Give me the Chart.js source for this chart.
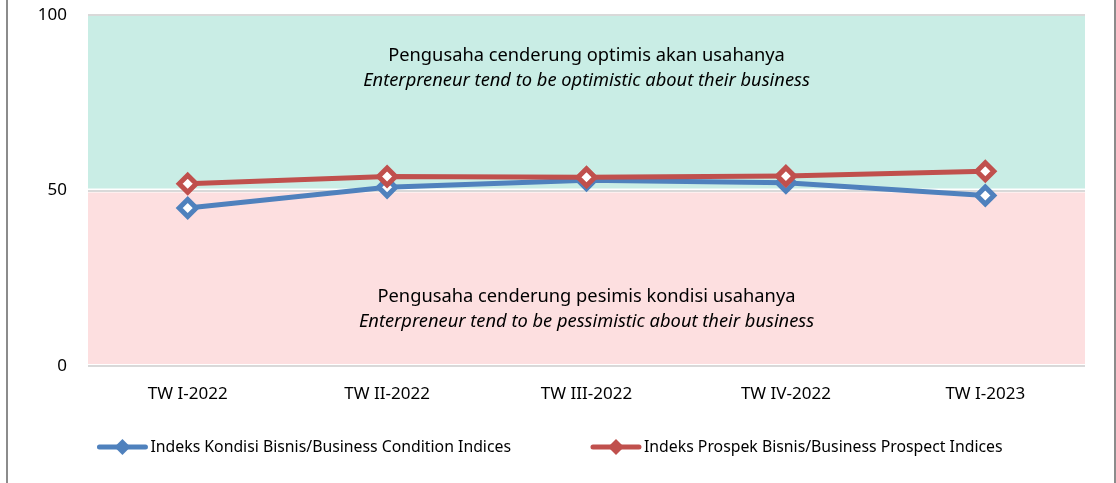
<!DOCTYPE html>
<html lang="id">
<head>
<meta charset="UTF-8">
<title>Indeks Kondisi dan Prospek Bisnis</title>
<script src="https://cdn.jsdelivr.net/npm/chart.js"></script>
<style>
  html, body { margin: 0; padding: 0; background: #fff; }
  #wrap { width: 1116px; height: 483px; }
</style>
</head>
<body>
<div id="wrap"><canvas id="bisnisChart"></canvas></div>
<script>
const quarters = ['TW I-2022', 'TW II-2022', 'TW III-2022', 'TW IV-2022', 'TW I-2023'];
const kondisiValues = [45.0, 50.9, 52.9, 52.2, 48.6];
const prospekValues = [51.9, 54.0, 53.8, 54.1, 55.5];
const yTicks = [0, 50, 100];

const FONT = '"Noto Sans", sans-serif';
const BLUE = '#4f81bd';
const RED = '#c0504d';

// background bands + annotation texts + frame + legend
const bandsPlugin = {
    id: 'bands',
    beforeDatasetsDraw(chart) {
        const { ctx, chartArea, scales: { y } } = chart;
        const top = y.getPixelForValue(100), mid = y.getPixelForValue(50), bot = y.getPixelForValue(0);
        ctx.save();
        ctx.fillStyle = '#c9ede5';
        ctx.fillRect(chartArea.left, top + 1, chartArea.right - chartArea.left, mid - top - 3);
        ctx.fillStyle = '#fddfe0';
        ctx.fillRect(chartArea.left, mid + 2, chartArea.right - chartArea.left, bot - mid - 4);

        const cx = (chartArea.left + chartArea.right) / 2;
        ctx.fillStyle = '#000';
        ctx.textAlign = 'center';
        ctx.textBaseline = 'middle';
        ctx.font = '18.3px ' + FONT;
        ctx.fillText('Pengusaha cenderung optimis akan usahanya', cx, y.getPixelForValue(88.4));
        ctx.fillText('Pengusaha cenderung pesimis kondisi usahanya', cx, y.getPixelForValue(19.6));
        ctx.font = 'italic 18.3px ' + FONT;
        ctx.fillText('Enterpreneur tend to be optimistic about their business', cx, y.getPixelForValue(81.3));
        ctx.fillText('Enterpreneur tend to be pessimistic about their business', cx, y.getPixelForValue(12.5));
        ctx.restore();
    },
    afterDraw(chart) {
        const { ctx, width, height } = chart;
        ctx.save();
        ctx.strokeStyle = '#8c8c8c';
        ctx.lineWidth = 2;
        ctx.beginPath();
        ctx.moveTo(7, 0); ctx.lineTo(7, height);
        ctx.moveTo(width - 1, 0); ctx.lineTo(width - 1, height);
        ctx.stroke();

        // legend
        const ly = 447;
        ctx.font = '15.8px ' + FONT;
        ctx.textBaseline = 'middle';
        ctx.textAlign = 'left';
        const items = chart.data.datasets.map(ds => ({ label: ds.label, color: ds.borderColor, w: 53 + ctx.measureText(ds.label).width }));
        const gap = 80;
        const total = items.reduce((s, it) => s + it.w, 0) + gap * (items.length - 1);
        let x = (width - total) / 2 - 8;
        items.forEach(it => {
            ctx.strokeStyle = it.color;
            ctx.lineWidth = 5;
            ctx.lineCap = 'round';
            ctx.beginPath();
            ctx.moveTo(x + 2, ly); ctx.lineTo(x + 48, ly);
            ctx.stroke();
            ctx.fillStyle = it.color;
            ctx.beginPath();
            const dx = x + 25;
            ctx.moveTo(dx, ly - 8); ctx.lineTo(dx + 8, ly); ctx.lineTo(dx, ly + 8); ctx.lineTo(dx - 8, ly);
            ctx.closePath();
            ctx.fill();
            ctx.fillStyle = '#000';
            ctx.fillText(it.label, x + 53, ly);
            x += it.w + gap;
        });
        ctx.restore();
    }
};

new Chart(document.getElementById('bisnisChart'), {
    type: 'line',
    data: {
        labels: quarters,
        datasets: [{
            label: 'Indeks Kondisi Bisnis/Business Condition Indices',
            data: kondisiValues,
            order: 2,
            borderColor: BLUE,
            backgroundColor: '#fff',
            borderWidth: 5,
            pointStyle: 'rectRot',
            pointRadius: 8.5,
            pointBorderWidth: 5,
            pointBackgroundColor: '#fff',
            pointBorderColor: BLUE,
            tension: 0
        }, {
            label: 'Indeks Prospek Bisnis/Business Prospect Indices',
            data: prospekValues,
            order: 1,
            borderColor: RED,
            backgroundColor: '#fff',
            borderWidth: 5,
            pointStyle: 'rectRot',
            pointRadius: 8.5,
            pointBorderWidth: 5,
            pointBackgroundColor: '#fff',
            pointBorderColor: RED,
            tension: 0
        }]
    },
    options: {
        responsive: true,
        maintainAspectRatio: false,
        animation: false,
        layout: { padding: { top: 15, right: 31, bottom: 0, left: 0 } },
        plugins: {
            legend: { display: false },
            tooltip: { enabled: false }
        },
        scales: {
            x: {
                offset: true,
                grid: { display: false },
                border: { display: false },
                ticks: { color: '#000', font: { family: FONT, size: 17 }, padding: 10 },
                afterFit(scale) { scale.height = 117; }
            },
            y: {
                min: 0,
                max: 100,
                afterBuildTicks(scale) { scale.ticks = yTicks.map(v => ({ value: v })); },
                grid: { color: '#d9d9d9', lineWidth: 2, drawTicks: false },
                border: { display: false },
                ticks: { color: '#000', font: { family: FONT, size: 17 }, padding: 21 },
                afterFit(scale) { scale.width = 88; scale.paddingTop = 0; scale.paddingBottom = 0; }
            }
        }
    },
    plugins: [bandsPlugin]
});
</script>
</body>
</html>
